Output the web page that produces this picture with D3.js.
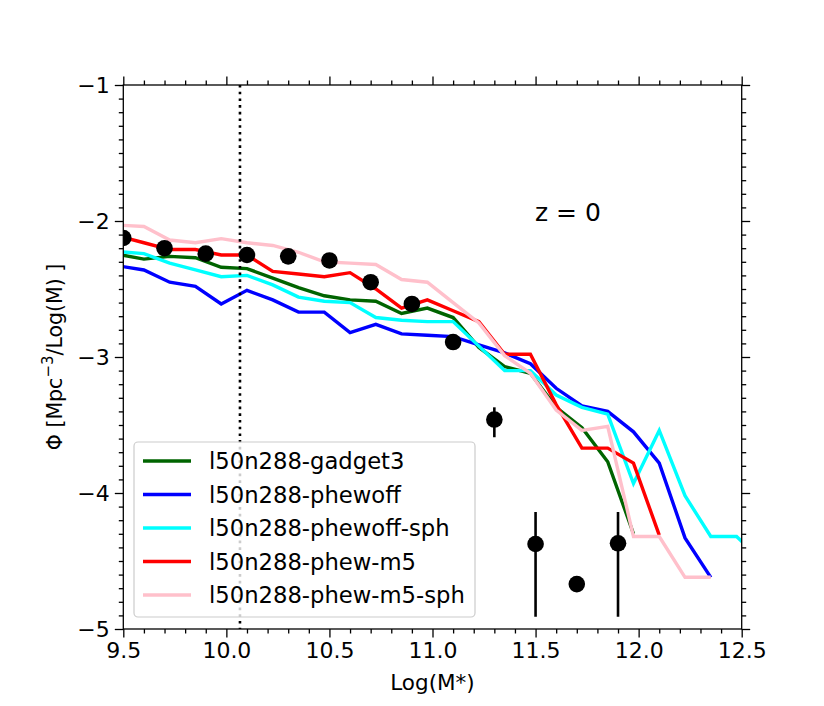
<!DOCTYPE html>
<html><head><meta charset="utf-8">
<script src="https://cdn.jsdelivr.net/npm/d3@7"></script>
<style>body{margin:0;background:#fff}svg{display:block}text{font-family:"DejaVu Sans",sans-serif}</style>
</head><body>
<svg id="c" width="824" height="706"></svg>
<script>
// ---- data ----
const binX = d3.range(26).map(k => 9.475 + 0.125 * k);
const seriesNames = ["l50n288-gadget3","l50n288-phewoff","l50n288-phewoff-sph","l50n288-phew-m5","l50n288-phew-m5-sph"];
const seriesColors = ["#006400","#0000ff","#00ffff","#ff0000","#ffc0cb"];
const gadget3 = [-2.245,-2.28,-2.26,-2.27,-2.34,-2.35,-2.42,-2.49,-2.55,-2.58,-2.59,-2.68,-2.64,-2.71,-2.93,-3.07,-3.12,-3.37,-3.52,-3.77,-4.30];
const phewoff = [-2.33,-2.36,-2.45,-2.48,-2.61,-2.51,-2.58,-2.67,-2.67,-2.82,-2.76,-2.83,-2.84,-2.85,-2.91,-2.97,-3.05,-3.23,-3.36,-3.40,-3.55,-3.78,-4.33,-4.62];
const phewoffSph = [-2.225,-2.24,-2.31,-2.36,-2.41,-2.40,-2.47,-2.56,-2.59,-2.60,-2.71,-2.73,-2.74,-2.74,-2.92,-3.10,-3.10,-3.28,-3.37,-3.42,-3.93,-3.54,-4.02,-4.32,-4.32,-4.50];
const phewM5 = [-2.11,-2.16,-2.21,-2.21,-2.25,-2.25,-2.37,-2.39,-2.41,-2.38,-2.50,-2.64,-2.58,-2.66,-2.74,-2.98,-2.98,-3.35,-3.67,-3.67,-3.78,-4.31];
const phewM5Sph = [-2.03,-2.04,-2.14,-2.16,-2.13,-2.16,-2.18,-2.23,-2.30,-2.31,-2.32,-2.43,-2.45,-2.60,-2.75,-2.99,-3.12,-3.39,-3.54,-3.51,-4.32,-4.32,-4.62,-4.62];
const seriesValues = [gadget3, phewoff, phewoffSph, phewM5, phewM5Sph];

const obsX  = [9.5,9.7,9.9,10.1,10.3,10.5,10.7,10.9,11.1,11.3,11.5,11.7,11.9];
const obsY  = [-2.125,-2.20,-2.24,-2.25,-2.26,-2.29,-2.45,-2.61,-2.89,-3.46,-4.375,-4.67,-4.37];
const obsHi = [null,null,null,null,null,null,null,null,null,-3.37,-4.14,null,-4.14];
const obsLo = [null,null,null,null,null,null,null,null,null,-3.59,-4.91,null,-4.91];

const cutX = 10.066;
const xTicks = [9.5,10.0,10.5,11.0,11.5,12.0,12.5];
const yTicks = [-5,-4,-3,-2,-1];
const xLabel = "Log(M*)";
const zLabel = "z = 0";

// ---- layout ----
const L = 123.3, R = 741.7, T = 85, B = 629;
const svg = d3.select("#c");
const x = d3.scaleLinear().domain([9.5,12.5]).range([L,R]);
const y = d3.scaleLinear().domain([-5,-1]).range([B,T]);

svg.append("clipPath").attr("id","clip").append("rect")
  .attr("x",L).attr("y",T).attr("width",R-L).attr("height",B-T);

const plot = svg.append("g").attr("clip-path","url(#clip)");
const line = d3.line().x(d=>x(d[0])).y(d=>y(d[1]));
seriesValues.forEach((vals,i)=>{
  plot.append("path").datum(vals.map((v,k)=>[binX[k],v]))
    .attr("d",line).attr("fill","none").attr("stroke",seriesColors[i])
    .attr("stroke-width",3.4).attr("stroke-linejoin","miter");
});

// dotted mass cut
plot.append("line").attr("x1",x(cutX)).attr("x2",x(cutX)).attr("y1",T).attr("y2",B)
  .attr("stroke","#000").attr("stroke-width",2.6).attr("stroke-dasharray","2.6,4.1");

// observations
obsX.forEach((ox,i)=>{
  if(obsHi[i]!==null){
    plot.append("line").attr("x1",x(ox)).attr("x2",x(ox)).attr("y1",y(obsHi[i])).attr("y2",y(obsLo[i]))
      .attr("stroke","#000").attr("stroke-width",2.6);
  }
});
plot.selectAll("circle.obs").data(obsX.map((ox,i)=>[ox,obsY[i]])).join("circle")
  .attr("class","obs").attr("cx",d=>x(d[0])).attr("cy",d=>y(d[1])).attr("r",8.3).attr("fill","#000");

// axes
const fmtY = d3.format("d");
const minorX = d3.range(95,126,1).map(v=>v/10).filter(v=>Math.abs(v*2-Math.round(v*2))>1e-6);
const minorY = d3.range(-50,-9,1).map(v=>v/10).filter(v=>Math.abs(v-Math.round(v))>1e-6);
function ax(make, tr, major, minor, labels, fmt){
  const g = svg.append("g").attr("transform",tr);
  g.call(make().tickSizeOuter(0).tickValues(minor).tickSize(4.5).tickFormat(""));
  const gm = svg.append("g").attr("transform",tr);
  gm.call(make().tickSizeOuter(0).tickValues(major).tickSize(8.5).tickPadding(5).tickFormat(labels?fmt:""));
  [g,gm].forEach(s=>{ s.selectAll(".domain").remove(); s.selectAll("line").attr("stroke","#000").attr("stroke-width",1.3); });
  gm.selectAll("text").attr("font-size",22).attr("fill","#000").attr("font-family","DejaVu Sans");
  return gm;
}
ax(()=>d3.axisBottom(x), `translate(0,${B})`, xTicks, minorX, true, d3.format(".1f"));
ax(()=>d3.axisTop(x), `translate(0,${T})`, xTicks, minorX, false);
ax(()=>d3.axisLeft(y), `translate(${L},0)`, yTicks, minorY, true, fmtY);
ax(()=>d3.axisRight(y), `translate(${R},0)`, yTicks, minorY, false);

svg.append("rect").attr("x",L).attr("y",T).attr("width",R-L).attr("height",B-T)
  .attr("fill","none").attr("stroke","#000").attr("stroke-width",1.3);

// labels
svg.append("text").attr("x",(L+R)/2).attr("y",690).attr("text-anchor","middle")
  .attr("font-size",21.5).text(xLabel);
const yl = svg.append("text").attr("transform",`translate(62,${(T+B)/2}) rotate(-90)`)
  .attr("text-anchor","middle").attr("font-size",20.5);
yl.append("tspan").text("Φ [Mpc");
yl.append("tspan").attr("dy",-9).attr("font-size",15).text("−3");
yl.append("tspan").attr("dy",9).text("/Log(M) ]");
svg.append("text").attr("x",535).attr("y",221).attr("font-size",25).text(zLabel);

// legend
const lg = svg.append("g");
lg.append("rect").attr("x",134).attr("y",442).attr("width",341).attr("height",175).attr("rx",4)
  .attr("fill","#fff").attr("fill-opacity",0.8).attr("stroke","#cccccc").attr("stroke-width",1.2);
seriesNames.forEach((n,i)=>{
  const yy = 461 + i*33.5;
  lg.append("line").attr("x1",143).attr("x2",191).attr("y1",yy).attr("y2",yy)
    .attr("stroke",seriesColors[i]).attr("stroke-width",3.4);
  lg.append("text").attr("x",209).attr("y",yy+8).attr("font-size",22.7).text(n);
});
</script>
</body></html>
